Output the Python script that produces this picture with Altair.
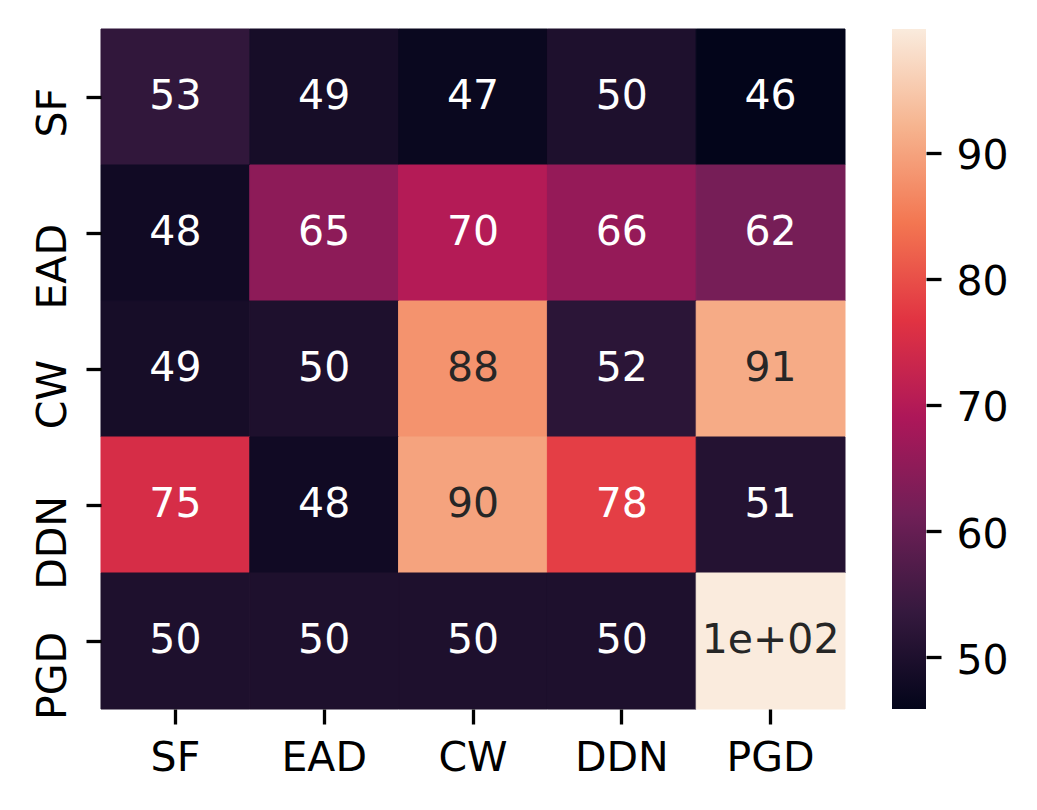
import altair as alt
import pandas as pd

rows = ["SF", "EAD", "CW", "DDN", "PGD"]
cols = ["SF", "EAD", "CW", "DDN", "PGD"]
values = [
    [53, 49, 47, 50, 45.9],
    [48, 65, 70, 66, 62],
    [49, 50, 88, 52, 91],
    [75, 48, 90, 78, 51],
    [50, 50, 50, 50, 99.8],
]
colorbar_ticks = [50, 60, 70, 80, 90]
rocket = ["#03051a", "#35193e", "#701f57", "#ad1759",
          "#e13342", "#f37651", "#f6b48f", "#faebdd"]

records = []
for r, row in zip(rows, values):
    for c, v in zip(cols, row):
        records.append({"row": r, "col": c, "value": v, "label": f"{v:.2g}"})
df = pd.DataFrame(records)

vmin = min(min(r) for r in values)
vmax = max(max(r) for r in values)
n = len(rocket)
stops_dom = [vmin + (vmax - vmin) * i / (n - 1) for i in range(n)]

FONT = "DejaVu Sans"
FS = 41
W, H = 744, 680

base = alt.Chart(df).encode(
    x=alt.X("col:N", sort=cols,
            scale=alt.Scale(paddingInner=0, paddingOuter=0),
            axis=alt.Axis(title=None, labelAngle=0, domain=False, grid=False,
                          tickSize=15, tickWidth=3.3, tickColor="black",
                          labelPadding=14, labelFontSize=FS, labelFont=FONT,
                          labelColor="black", labelBaseline="top")),
    y=alt.Y("row:N", sort=rows,
            scale=alt.Scale(paddingInner=0, paddingOuter=0),
            axis=alt.Axis(title=None, labelAngle=270, labelAlign="right",
                          labelBaseline="alphabetic", domain=False, grid=False,
                          tickSize=15, tickWidth=3.3, tickColor="black",
                          labelPadding=21, labelOffset=-9, labelFontSize=FS,
                          labelFont=FONT, labelColor="black")),
)

cscale = alt.Scale(type="linear", domain=stops_dom, range=rocket, interpolate="rgb")
rect = base.mark_rect(strokeWidth=1).encode(
    color=alt.Color("value:Q", scale=cscale, legend=None),
    stroke=alt.Stroke("value:Q", scale=cscale, legend=None),
)
text = base.mark_text(fontSize=FS, font=FONT, baseline="middle").encode(
    text="label:N",
    color=alt.condition(alt.datum.value > 84, alt.value("#262626"), alt.value("#ffffff")),
)
heat = alt.layer(rect, text)

grad = alt.Gradient(
    gradient="linear",
    stops=[alt.GradientStop(color=c, offset=i / (n - 1)) for i, c in enumerate(rocket)],
    x1=0, x2=0, y1=1, y2=0,
)
cb = alt.Chart(pd.DataFrame({"lo": [vmin], "hi": [vmax]})).mark_rect(fill=grad).encode(
    x=alt.value(W + 47),
    x2=alt.value(W + 81),
    y=alt.Y("lo:Q",
            scale=alt.Scale(domain=[vmin, vmax], nice=False, zero=False),
            axis=alt.Axis(orient="right", offset=81, values=colorbar_ticks, title=None,
                          domain=False, grid=False, tickSize=15, tickWidth=3.3,
                          tickColor="black", labelPadding=15, labelFontSize=FS,
                          labelFont=FONT, labelColor="black", labelOffset=4)),
    y2="hi:Q",
)

chart = alt.layer(heat, cb).resolve_scale(y="independent").properties(
    width=W, height=H,
    padding={"left": 93, "top": 21, "right": 180, "bottom": 95},
    autosize=alt.AutoSizeParams(type="none"),
).configure_view(stroke=None)

chart.save("out.html", embed_options={"renderer": "svg", "actions": False})
